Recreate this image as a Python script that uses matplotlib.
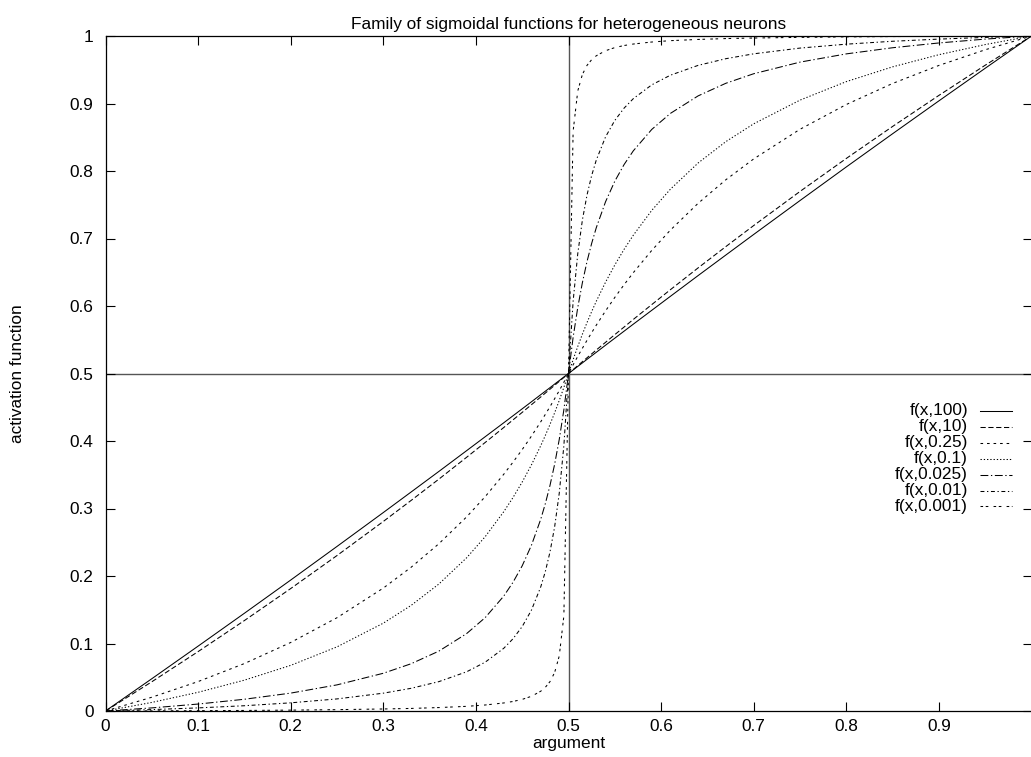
import matplotlib
matplotlib.use("Agg")
import matplotlib.pyplot as plt
from matplotlib.lines import Line2D
import numpy as np

plt.rcParams['font.family'] = ['Liberation Sans', 'DejaVu Sans']
plt.rcParams['lines.scale_dashes'] = False

# Sample positions on the lower half of the argument range
x_lower = [0.0, 0.05, 0.1, 0.15, 0.2, 0.25, 0.3, 0.33, 0.36, 0.39, 0.41,
           0.43, 0.44, 0.45, 0.46, 0.47, 0.475, 0.48, 0.485, 0.49, 0.495]

# Activation values on the lower half, one list per parameter value
f_100 = [0.0, 0.0478, 0.0961, 0.1448, 0.1940, 0.2438, 0.2940, 0.3244, 0.3549,
         0.3857, 0.4063, 0.4269, 0.4373, 0.4477, 0.4581, 0.4686, 0.4738,
         0.4790, 0.4843, 0.4895, 0.4948]
f_10 = [0.0, 0.0433, 0.0880, 0.1340, 0.1814, 0.2303, 0.2808, 0.3119, 0.3435,
        0.3759, 0.3978, 0.4199, 0.4312, 0.4424, 0.4538, 0.4652, 0.4710,
        0.4767, 0.4825, 0.4883, 0.4942]
f_025 = [0.0, 0.0204, 0.0436, 0.0703, 0.1015, 0.1382, 0.1821, 0.2129, 0.2478,
         0.2876, 0.3175, 0.3506, 0.3685, 0.3873, 0.4073, 0.4284, 0.4395,
         0.4508, 0.4626, 0.4746, 0.4871]
f_01 = [0.0, 0.0127, 0.0277, 0.0457, 0.0676, 0.0950, 0.1301, 0.1564, 0.1881,
        0.2270, 0.2582, 0.2951, 0.3161, 0.3392, 0.3647, 0.3930, 0.4083,
        0.4245, 0.4417, 0.4600, 0.4794]
f_0025 = [0.0, 0.0046, 0.0103, 0.0174, 0.0265, 0.0387, 0.0559, 0.0700, 0.0887,
          0.1147, 0.1383, 0.1701, 0.1905, 0.2151, 0.2456, 0.2840, 0.3073,
          0.3341, 0.3654, 0.4022, 0.4463]
f_001 = [0.0, 0.0021, 0.0046, 0.0078, 0.0121, 0.0179, 0.0264, 0.0336, 0.0435,
         0.0581, 0.0723, 0.0928, 0.1069, 0.1251, 0.1495, 0.1838, 0.2067,
         0.2355, 0.2726, 0.3225, 0.3930]
f_0001 = [0.0, 0.0002, 0.0005, 0.0008, 0.0013, 0.0020, 0.0030, 0.0038, 0.0051,
          0.0069, 0.0089, 0.0119, 0.0141, 0.0172, 0.0218, 0.0293, 0.0351,
          0.0435, 0.0569, 0.0814, 0.1410]

labels = ["f(x,100)", "f(x,10)", "f(x,0.25)", "f(x,0.1)",
          "f(x,0.025)", "f(x,0.01)", "f(x,0.001)"]
series = [f_100, f_10, f_025, f_01, f_0025, f_001, f_0001]

tick_values = [0, 0.1, 0.2, 0.3, 0.4, 0.5, 0.6, 0.7, 0.8, 0.9, 1]
y_tick_labels = ["0", "0.1", "0.2", "0.3", "0.4", "0.5", "0.6", "0.7", "0.8", "0.9", "1"]
x_tick_labels = ["0", "0.1", "0.2", "0.3", "0.4", "0.5", "0.6", "0.7", "0.8", "0.9", ""]

# gnuplot-like monochrome dash patterns (points)
u = 0.94
dash_styles = [
    '-',
    (0, (4 * u, 2 * u)),
    (0, (2 * u, 3 * u)),
    (0, (1 * u, 1.5 * u)),
    (0, (6 * u, 2 * u, 1 * u, 2 * u)),
    (0, (3 * u, 2 * u, 1 * u, 2 * u)),
    (0, (2 * u, 2 * u, 2 * u, 4 * u)),
]

FS = 12.4
W, H = 1031, 757
fig = plt.figure(figsize=(W / 100, H / 100), dpi=100)
left, right, bottom, top = 105.5, 1031.5, 711, 36
ax = fig.add_axes([left / W, (H - bottom) / H, (right - left) / W, (bottom - top) / H])

# reference cross through the centre point
ax.axhline(0.5, color='#555555', lw=1.0, zorder=1)
ax.axvline(0.5, color='#555555', lw=1.0, zorder=1)

x_lower_arr = np.array(x_lower)
for vals, ds in zip(series, dash_styles):
    v = np.array(vals)
    # the curves are point-symmetric about (0.5, 0.5)
    xs = np.concatenate([x_lower_arr, 1.0 - x_lower_arr[::-1]])
    ys = np.concatenate([v, 1.0 - v[::-1]])
    ax.plot(xs, ys, color='black', lw=0.75, linestyle=ds,
            dash_capstyle='butt', zorder=3)

ax.set_xlim(0, 1)
ax.set_ylim(0, 1)
ax.set_xticks(tick_values)
ax.set_xticklabels(x_tick_labels)
ax.set_yticks(tick_values)
ax.set_yticklabels(y_tick_labels)
ax.tick_params(direction='in', length=6.7, width=0.8, top=True, right=True,
               labelsize=FS, color='black')
ax.tick_params(axis='x', pad=6)
ax.tick_params(axis='y', pad=8.7)
for s in ax.spines.values():
    s.set_linewidth(0.9)
    s.set_color('black')

# title and axis labels placed in figure pixels
cx = (left + right) / 2
fig.text(cx / W, (H - 29) / H, "Family of sigmoidal functions for heterogeneous neurons",
         ha='center', va='baseline', fontsize=FS)
fig.text(cx / W, (H - 748) / H, "argument", ha='center', va='baseline', fontsize=FS)
fig.text(18 / W, (H - (top + bottom) / 2) / H, "activation function", rotation=90,
         ha='center', va='center', fontsize=FS)

# key block: right-aligned labels followed by a line sample
key_text_right = 968
key_line_x = (980, 1012)
key_top = 411
key_step = 15.9
for i, (lab, ds) in enumerate(zip(labels, dash_styles)):
    yp = H - (key_top + i * key_step)
    fig.text(key_text_right / W, yp / H, lab, ha='right', va='center',
             fontsize=FS)
    fig.add_artist(Line2D([key_line_x[0] / W, key_line_x[1] / W], [yp / H, yp / H],
                          transform=fig.transFigure, color='black', lw=0.75,
                          linestyle=ds, dash_capstyle='butt'))

fig.savefig("out.png", dpi=100)
